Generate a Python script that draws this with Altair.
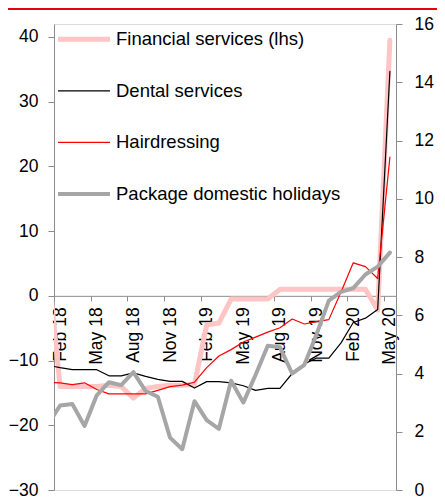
import altair as alt
import pandas as pd

# ---- data -------------------------------------------------------------
months = ['Jan 18', 'Feb 18', 'Mar 18', 'Apr 18', 'May 18', 'Jun 18', 'Jul 18', 'Aug 18',
          'Sep 18', 'Oct 18', 'Nov 18', 'Dec 18', 'Jan 19', 'Feb 19', 'Mar 19', 'Apr 19',
          'May 19', 'Jun 19', 'Jul 19', 'Aug 19', 'Sep 19', 'Oct 19', 'Nov 19', 'Dec 19',
          'Jan 20', 'Feb 20', 'Mar 20', 'Apr 20', 'May 20']
tick_labels = ['Feb 18', 'May 18', 'Aug 18', 'Nov 18', 'Feb 19', 'May 19', 'Aug 19',
               'Nov 19', 'Feb 20', 'May 20']

series_names = ['Financial services (lhs)', 'Dental services', 'Hairdressing',
                'Package domestic holidays']
series_colors = ['#FFC4C4', '#000000', '#FF0000', '#A6A6A6']
series_widths = [5, 1.2, 1.2, 4]

# left axis
financial = [5.0, -14.0, -14.0, -14.0, -14.0, -13.8, -14.0, -15.8, -14.3, -14.0, -13.8,
             -13.8, -13.7, -4.5, -4.2, -0.5, -0.5, -0.5, -0.5, 1.0, 1.0, 1.0, 1.0, 1.0,
             1.0, 1.0, 1.0, -2.2, 39.5]
# right axis
dental = [4.28, 4.2, 4.13, 4.13, 4.13, 3.92, 3.92, 4.02, 3.9, 3.8, 3.73, 3.73, 3.5, 3.72,
          3.72, 3.68, 3.58, 3.42, 3.49, 3.49, 4.0, 4.33, 4.53, 4.53, 5.05, 5.75, 5.9, 6.2,
          14.37]
hair = [3.7, 3.68, 3.62, 3.68, 3.45, 3.3, 3.3, 3.3, 3.3, 3.42, 3.55, 3.6, 3.7, 4.2, 4.6,
        4.82, 5.08, 5.25, 5.42, 5.57, 5.87, 5.7, 5.78, 5.85, 6.8, 7.8, 7.67, 7.26, 11.43]
pkg = [2.25, 2.9, 2.95, 2.2, 3.25, 3.7, 3.6, 4.05, 3.4, 3.2, 1.8, 1.4, 3.05, 2.4, 2.1,
       3.75, 3.0, 3.95, 4.95, 4.9, 4.0, 4.3, 5.35, 6.5, 6.8, 6.93, 7.4, 7.67, 8.15]

left_ticks = [-30, -20, -10, 0, 10, 20, 30, 40]
right_ticks = [0, 2, 4, 6, 8, 10, 12, 14, 16]

# ---- layout -----------------------------------------------------------
W, H = 342, 466
LEFT_DOMAIN = [-30, 42]
RIGHT_DOMAIN = [0, 16]
FONT = 'Liberation Sans'
AXIS_GREY = '#8C8C8C'

idx = list(range(-1, len(months) - 1))


def frame(name, vals):
    return pd.DataFrame({'idx': idx, 'month': months, 'series': name, 'value': vals})


half_band = W / (len(months) - 1) / 2
zero_offset = -(H - H * (LEFT_DOMAIN[1] - 0) / (LEFT_DOMAIN[1] - LEFT_DOMAIN[0]))

label_list = "[" + ",".join("'" + t + "'" for t in tick_labels) + "]"
x_enc = alt.X(
    'idx:Q',
    scale=alt.Scale(domain=[-0.5, len(months) - 1.5], nice=False, zero=False),
    axis=alt.Axis(
        values=[-0.5 + 3 * k for k in range(len(tick_labels))],
        labelExpr=label_list + "[round((datum.value + 0.5) / 3)]",
        labelAngle=270, labelAlign='right', labelBaseline='middle',
        labelOffset=half_band, labelPadding=6, labelFlush=False, labelOverlap=False,
        labelBound=False,
        offset=zero_offset, tickSize=5, grid=False, title=None,
        domainColor=AXIS_GREY, tickColor=AXIS_GREY,
        labelFont=FONT, labelFontSize=17.5, labelColor='#000000'),
)

color_enc = alt.Color('series:N',
                      scale=alt.Scale(domain=series_names, range=series_colors),
                      legend=None)
width_enc = alt.StrokeWidth('series:N',
                            scale=alt.Scale(type='ordinal', domain=series_names,
                                            range=series_widths),
                            legend=None)

left_y = alt.Y('value:Q', scale=alt.Scale(domain=LEFT_DOMAIN, nice=False, zero=False),
               axis=alt.Axis(orient='left', values=left_ticks, grid=False, title=None,
                             tickSize=6, labelPadding=10, domainColor=AXIS_GREY,
                             tickColor=AXIS_GREY, labelFont=FONT, labelFontSize=17.5,
                             labelColor='#000000'))
right_y = alt.Y('value:Q', scale=alt.Scale(domain=RIGHT_DOMAIN, nice=False, zero=False),
                axis=alt.Axis(orient='right', values=right_ticks, grid=False, title=None,
                              tickSize=6, labelPadding=12, domainColor=AXIS_GREY,
                              tickColor=AXIS_GREY, labelFont=FONT, labelFontSize=17.5,
                              labelColor='#000000'))


def line(df, y):
    return alt.Chart(df).mark_line(clip=True, strokeJoin='round', strokeCap='round').encode(
        x=x_enc, y=y, color=color_enc, strokeWidth=width_enc,
        order=alt.Order('idx:Q'))


fin_layer = line(frame(series_names[0], financial), left_y)
rhs_layer = alt.layer(
    line(frame(series_names[1], dental), right_y),
    line(frame(series_names[2], hair), right_y),
    line(frame(series_names[3], pkg), right_y),
)

# ---- legend (inside plot, top-left) ----------------------------------
legend_df = pd.DataFrame({'series': series_names})
legend_y = alt.Y('series:N',
                 scale=alt.Scale(type='point', domain=series_names, range=[15.3, 170],
                                 padding=0),
                 axis=None)
legend_lines = alt.Chart(legend_df).mark_rule(strokeCap='butt').encode(
    x=alt.value(4), x2=alt.value(56), y=legend_y, color=color_enc, strokeWidth=width_enc)
legend_text = alt.Chart(legend_df).mark_text(
    align='left', baseline='middle', font=FONT, fontSize=18.5, color='#000000').encode(
    x=alt.value(62), y=legend_y, text='series:N')
legend_layer = alt.layer(legend_lines, legend_text)

top_rule = alt.Chart(pd.DataFrame({'k': [0]})).mark_rule(color='#E8000B', strokeWidth=2).encode(
    x=alt.value(-46), x2=alt.value(W + 41), y=alt.value(-15))

chart = alt.layer(fin_layer, rhs_layer, legend_layer, top_rule).resolve_scale(
    y='independent'
).properties(
    width=W, height=H,
    padding={'left': 46, 'top': 16, 'right': 41, 'bottom': 10},
    autosize=alt.AutoSizeParams(type='none'),
).configure_view(stroke=None).configure(background='#FFFFFF')

chart.save("out.html", embed_options={"renderer": "svg", "actions": False})
